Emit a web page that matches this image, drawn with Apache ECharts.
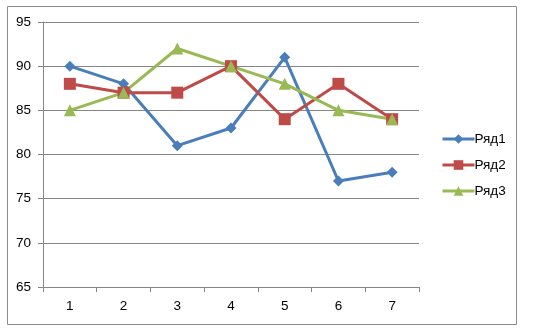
<!DOCTYPE html>
<html><head><meta charset="utf-8">
<script src="https://cdn.jsdelivr.net/npm/echarts@6/dist/echarts.min.js"></script>
<style>html,body{margin:0;padding:0;background:#fff}#c{width:545px;height:332px}</style>
</head><body><div id="c"></div>
<script>
const categories = ['1','2','3','4','5','6','7'];
const names = ['Ряд1','Ряд2','Ряд3'];
const s1 = [90, 88, 81, 83, 91, 77, 78];
const s2 = [88, 87, 87, 90, 84, 88, 84];
const s3 = [85, 87, 92, 90, 88, 85, 84];
const colors = ['#4A7EBB','#BE4B48','#98B954'];
const symbols = ['diamond','rect','triangle'];
const sizes = [11, 12, 12];
const data = [s1, s2, s3];
const font = 'Liberation Sans';
const chart = echarts.init(document.getElementById('c'), null, {renderer:'canvas'});
chart.setOption({
  animation:false,
  color: colors,
  graphic:[{type:'rect', shape:{x:7.5,y:6.5,width:509,height:318}, style:{fill:null, stroke:'#8c8c8c', lineWidth:1}, silent:true}],
  grid:{left:43, right:126, top:22, bottom:45, containLabel:false},
  legend:{orient:'vertical', left:436, top:127, itemGap:12, itemWidth:32, itemHeight:12,
    lineStyle:{width:3},
    textStyle:{fontFamily:font, fontSize:13.5, color:'#000', padding:[0,0,0,-5]}, data:names},
  xAxis:{type:'category', data:categories, boundaryGap:true,
    axisLine:{lineStyle:{color:'#868686'}}, axisTick:{show:true, length:5, lineStyle:{color:'#868686'}},
    axisLabel:{fontFamily:font, fontSize:13.5, color:'#000', margin:12}},
  yAxis:{type:'value', min:65, max:95, interval:5,
    axisLine:{show:true, lineStyle:{color:'#868686'}}, axisTick:{show:true, length:5, lineStyle:{color:'#868686'}},
    splitLine:{lineStyle:{color:'#868686'}},
    axisLabel:{fontFamily:font, fontSize:13.5, color:'#000', margin:12}},
  series: data.map((d,i)=>({name:names[i], type:'line', data:d, symbol:symbols[i], symbolSize:sizes[i],
    lineStyle:{width:3, color:colors[i]}, itemStyle:{color:colors[i]}}))
});
</script></body></html>
